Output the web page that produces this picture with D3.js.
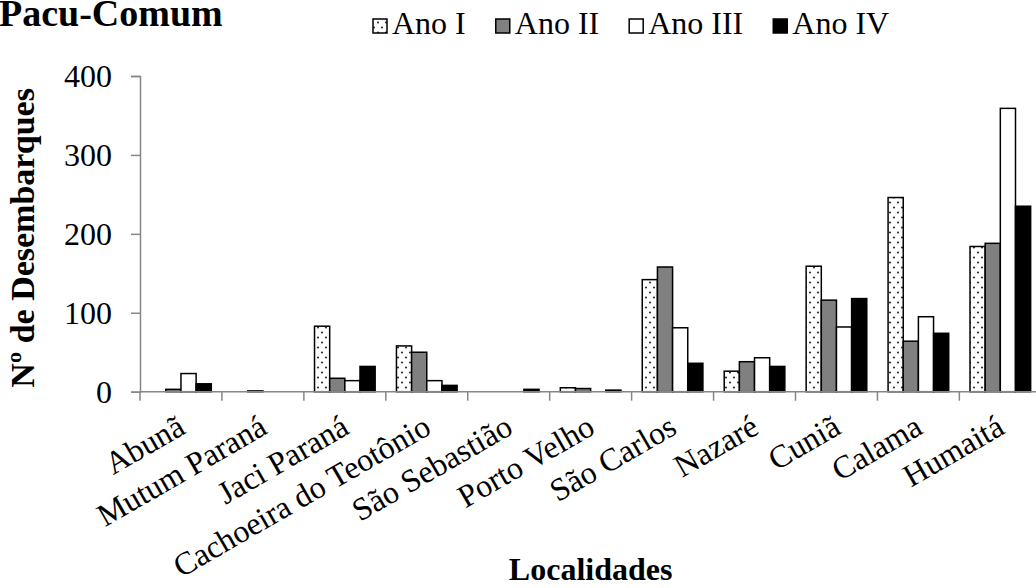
<!DOCTYPE html>
<html>
<head>
<meta charset="utf-8">
<script src="https://cdn.jsdelivr.net/npm/d3@7"></script>
<style>
  html, body { margin: 0; padding: 0; background: #fff; }
  svg { display: block; }
  svg text { font-family: 'Liberation Serif', Tinos, 'Times New Roman', Times, serif !important; fill: #000; }
</style>
</head>
<body>
<svg id="chart" width="1036" height="588"></svg>
<script>
// ---- data ----
const categories = ["Abunã", "Mutum Paraná", "Jaci Paraná", "Cachoeira do Teotônio", "São Sebastião",
  "Porto Velho", "São Carlos", "Nazaré", "Cuniã", "Calama", "Humaitá"];
const seriesNames = ["Ano I", "Ano II", "Ano III", "Ano IV"];
const anoI   = [0, 0, 83, 58, 0, 5, 142, 26, 159, 246, 184];
const anoII  = [3, 1, 17, 50, 0, 4, 158, 38, 116, 64, 188];
const anoIII = [23, 0, 14, 14, 0, 0, 81, 43, 82, 95, 359];
const anoIV  = [10, 0, 32, 8, 3, 2, 36, 32, 118, 74, 235];
const yTicks = [0, 100, 200, 300, 400];
const titleText = "Pacu-Comum";
const xTitle = "Localidades";
const yTitle = "Nº de Desembarques";

const seriesValues = [anoI, anoII, anoIII, anoIV];
const FONT = "'Liberation Serif', Tinos, 'Times New Roman', Times, serif";

// ---- layout ----
const svg = d3.select("#chart");
const mLeft = 140, mRight = 1041.3, mTop = 76, mBottom = 391.7;

const defs = svg.append("defs");
const pat = defs.append("pattern")
  .attr("id", "dots").attr("patternUnits", "userSpaceOnUse")
  .attr("width", 8).attr("height", 10);
pat.append("rect").attr("width", 8).attr("height", 10).attr("fill", "#fff");
pat.append("circle").attr("cx", 2).attr("cy", 2.5).attr("r", 1.1).attr("fill", "#333");
pat.append("circle").attr("cx", 6).attr("cy", 7.5).attr("r", 1.1).attr("fill", "#333");

const fills = ["url(#dots)", "#808080", "#ffffff", "#000000"];

const x0 = d3.scaleBand().domain(categories).range([mLeft, mRight])
  .paddingInner(0.26).paddingOuter(0.13);
const x1 = d3.scaleBand().domain(seriesNames).range([0, x0.bandwidth()]).padding(0);
const y = d3.scaleLinear().domain([0, 400]).range([mBottom, mTop]);

// bars
const rows = [];
categories.forEach((c, i) => {
  seriesNames.forEach((s, j) => {
    rows.push({ c, s, j, v: seriesValues[j][i] });
  });
});

svg.append("g").selectAll("rect")
  .data(rows.filter(d => d.v > 0))
  .join("rect")
  .attr("x", d => x0(d.c) + x1(d.s))
  .attr("y", d => y(d.v))
  .attr("width", x1.bandwidth())
  .attr("height", d => y(0) - y(d.v))
  .attr("fill", d => fills[d.j])
  .attr("stroke", "#000")
  .attr("stroke-width", 1.5);

// y axis
const yAxis = svg.append("g").attr("transform", `translate(${mLeft},0)`)
  .call(d3.axisLeft(y).tickValues(yTicks).tickSize(9).tickPadding(19).tickFormat(d3.format("d")));
yAxis.attr("font-family", FONT);
yAxis.select(".domain").attr("stroke", "#868686").attr("stroke-width", 1.5);
yAxis.selectAll(".tick line").attr("stroke", "#868686").attr("stroke-width", 1.5);
yAxis.selectAll(".tick text").style("font-family", FONT).style("font-size", "32px")
  .attr("fill", "#000").attr("dy", "0.34em");

// x axis line and ticks at boundaries
const xg = svg.append("g");
xg.append("line").attr("x1", mLeft).attr("x2", 1036).attr("y1", y(0)).attr("y2", y(0))
  .attr("stroke", "#868686").attr("stroke-width", 1.5);
const step = x0.step();
const boundaries = categories.map((c) => x0(c) - x0.paddingOuter() * step);
xg.selectAll("line.bt").data(boundaries).join("line").attr("class", "bt")
  .attr("x1", d => d).attr("x2", d => d)
  .attr("y1", y(0)).attr("y2", y(0) + 9)
  .attr("stroke", "#868686").attr("stroke-width", 1.5);

// category labels
xg.selectAll("text.cat").data(categories).join("text").attr("class", "cat")
  .attr("text-anchor", "end")
  .attr("transform", d => `translate(${x0(d) + x0.bandwidth() / 2 + 6},${y(0) + 41}) rotate(-30)`)
  .style("font-family", FONT).style("font-size", "32px")
  .text(d => d);

// axis titles
svg.append("text").attr("x", (mLeft + mRight) / 2).attr("y", 580)
  .attr("text-anchor", "middle").style("font-family", FONT).style("font-size", "32px").style("font-weight", "bold")
  .text(xTitle);
svg.append("text").attr("transform", `translate(34,${(mTop + mBottom) / 2 + 4}) rotate(-90)`)
  .attr("text-anchor", "middle").style("font-family", FONT).style("font-size", "34px").style("font-weight", "bold")
  .text(yTitle);

// title
svg.append("text").attr("x", -1).attr("y", 26).style("font-family", FONT).style("font-size", "38px").style("font-weight", "bold")
  .text(titleText);

// legend
const lg = svg.append("g");
let lx = 373;
seriesNames.forEach((s, j) => {
  lg.append("rect").attr("x", lx).attr("y", 19).attr("width", 14).attr("height", 14)
    .attr("fill", fills[j]).attr("stroke", "#000").attr("stroke-width", 1.5);
  const t = lg.append("text").attr("x", lx + 19).attr("y", 34).style("font-family", FONT).style("font-size", "32px").text(s);
  lx = lx + 19 + t.node().getComputedTextLength() + 30;
});
</script>
</body>
</html>
